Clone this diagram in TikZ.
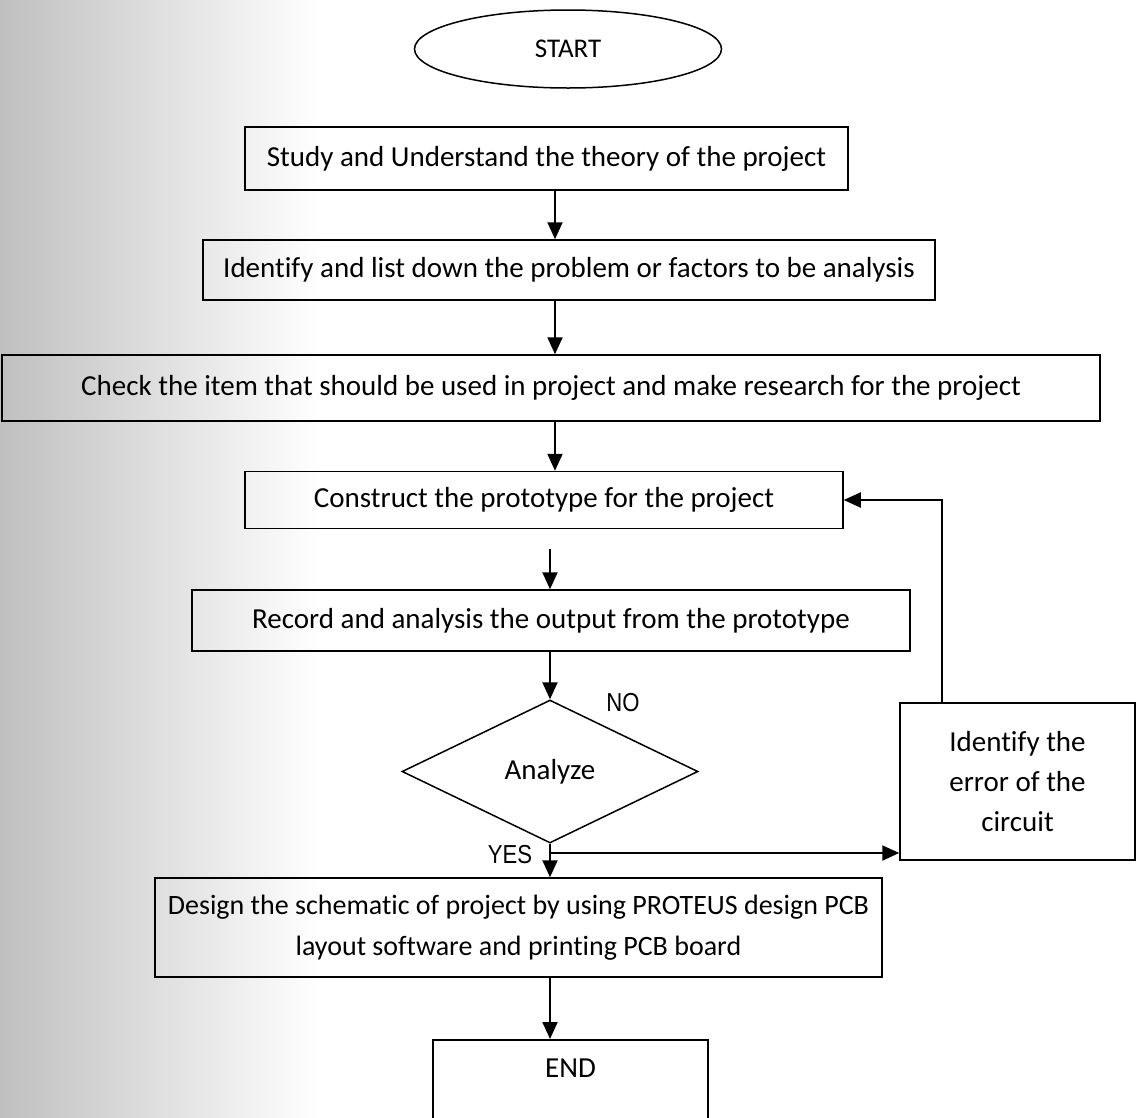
\documentclass[tikz,border=0pt]{standalone}
\usepackage{fontspec}
\setmainfont[Ligatures=NoCommon]{Carlito}
\newfontfamily\narrowfont[FakeStretch=0.85]{Liberation Sans}
\usetikzlibrary{shapes.geometric,arrows.meta}
\begin{document}
\begin{tikzpicture}[x=1pt,y=-1pt,
  every node/.style={font=\fontsize{29}{40}\selectfont, inner sep=0pt},
  box/.style={draw, line width=1.5pt, rectangle},
  arr/.style={line width=2pt, -{Triangle[length=17pt,width=15pt]}},
  lbl/.style={font=\narrowfont\fontsize{26}{28}\selectfont}]
\useasboundingbox (0,0) rectangle (1138,1117);
\clip (0,0) rectangle (1138,1117);
\shade[left color=gray!50, right color=white] (0,0) rectangle (320,1117);
% coordinates for vertical connectors
\coordinate (ax) at (555,0);
\coordinate (bx) at (550,0);
% nodes
\node[draw, line width=1.5pt, ellipse, minimum width=307pt, minimum height=78pt, font=\fontsize{27}{30}\selectfont] (start) at (568,49) {START};
\node[box, minimum width=603pt, minimum height=63pt] (b1) at (546.5,158.5) {Study and Understand the theory of the project};
\node[box, minimum width=732pt, minimum height=60pt] (b2) at (569,270) {Identify and list down the problem or factors to be analysis};
\node[box, minimum width=1098pt, minimum height=66pt] (b3) at (551,388) {Check the item that should be used in project and make research for the project};
\node[box, minimum width=598pt, minimum height=57pt] (b4) at (544,500) {Construct the prototype for the project};
\node[box, minimum width=718pt, minimum height=61pt] (b5) at (551,620.5) {Record and analysis the output from the prototype};
\node[draw, line width=1.5pt, diamond, aspect=2.07, minimum width=296pt, minimum height=143pt] (dia) at (550,771.5) {Analyze};
\node[box, minimum width=727pt, minimum height=99pt, align=center, font=\fontsize{28}{41}\selectfont] (b6) at (518.5,927.5) {Design the schematic of project by using PROTEUS design PCB\\layout software and printing PCB board};
\node[box, minimum width=235pt, minimum height=157pt, align=center] (b7) at (1017.5,781.5) {Identify the\\error of the\\circuit};
\node[box, anchor=north, minimum width=275pt, text height=38pt, text depth=72pt] (end) at (570.5,1039) {END};
\node[lbl] (no) at (623,703) {NO};
\node[lbl] (yes) at (510,855) {YES};
\coordinate (ysplit) at (550,853);
\coordinate (fb) at (942,0);
% connectors
\draw[arr] (b1.south -| ax) -- (b2.north -| ax);
\draw[arr] (b2.south -| ax) -- (b3.north -| ax);
\draw[arr] (b3.south -| ax) -- (b4.north -| ax);
\draw[arr, shorten <=20pt] (b4.south -| bx) -- (b5.north -| bx);
\draw[arr] (b5.south -| bx) -- (dia.north);
\draw[arr] (dia.south) -- (b6.north -| dia.south);
\draw[arr] (ysplit) -- (ysplit -| b7.west);
\draw[arr] (b7.north -| fb) |- (b4.east);
\draw[arr] (b6.south -| bx) -- (end.north -| bx);
\end{tikzpicture}
\end{document}
